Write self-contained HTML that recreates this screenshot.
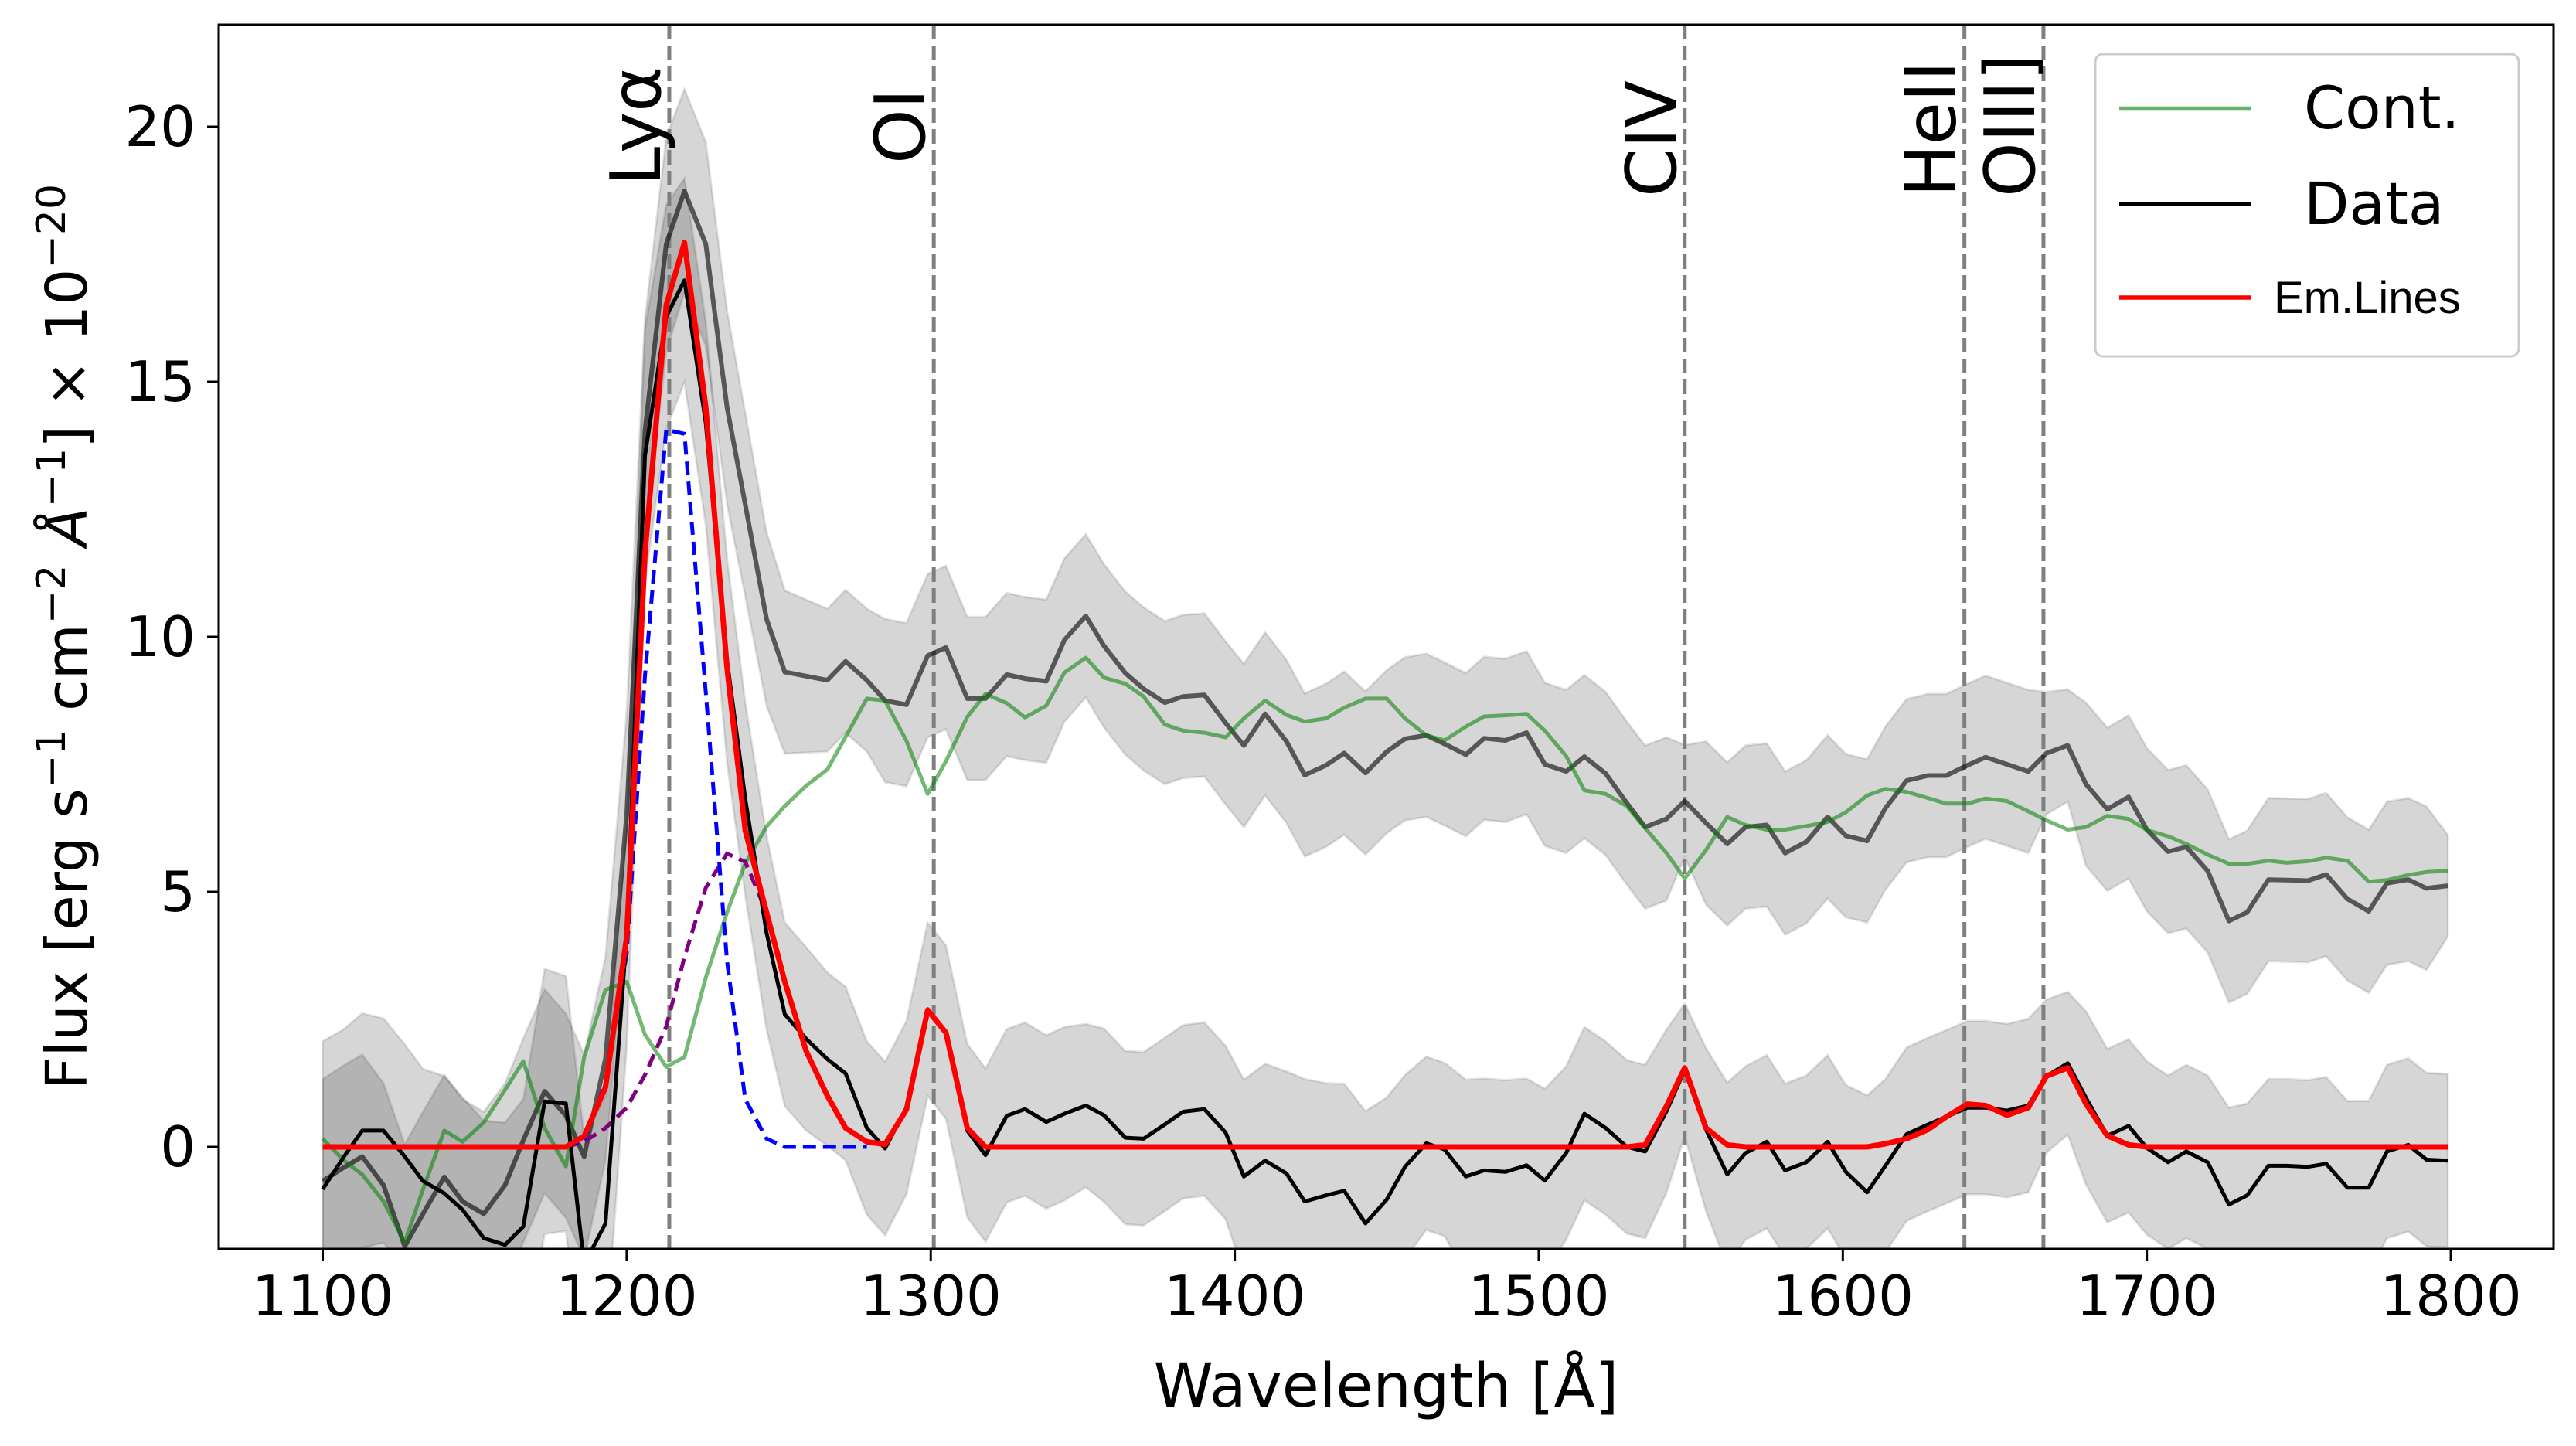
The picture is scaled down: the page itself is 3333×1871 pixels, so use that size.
<!DOCTYPE html>
<html><head><meta charset="utf-8">
<style>
html,body{margin:0;padding:0;background:#fff;}
svg{display:block;}
text{font-family:"DejaVu Sans","Liberation Sans",sans-serif;fill:#000;}
</style></head>
<body>
<svg id="chart" width="3333" height="1871" viewBox="0 0 3333 1871" xmlns="http://www.w3.org/2000/svg">
<g id="bands"></g>
<g id="vlines"></g>
<g id="series"></g>
<g id="axes"></g>
<g id="legend">
  <rect x="2711" y="70" width="548" height="391" rx="10" fill="#fff" fill-opacity="0.8" stroke="#ccc" stroke-width="3"/>
  <line x1="2742" y1="140" x2="2912" y2="140" stroke="#66b266" stroke-width="4.5"/>
  <text x="2981" y="166" font-size="76">Cont.</text>
  <line x1="2742" y1="264" x2="2912" y2="264" stroke="#000" stroke-width="4.5"/>
  <text x="2981" y="290" font-size="76">Data</text>
  <line x1="2742" y1="385" x2="2912" y2="385" stroke="#f00" stroke-width="5.5"/>
  <text x="2942" y="405" font-size="58" style="font-family:'Liberation Sans',sans-serif">Em.Lines</text>
</g>
</svg>
<script>
const wavelengths=[1100,1107,1113,1120,1127,1133,1140,1146,1153,1160,1166,1173,1180,1186,1193,1200,1206,1213,1219,1226,1233,1239,1246,1252,1259,1266,1272,1279,1285,1292,1299,1305,1312,1318,1325,1331,1338,1344,1351,1357,1364,1370,1377,1383,1390,1397,1403,1410,1417,1423,1430,1436,1443,1450,1456,1463,1469,1476,1482,1489,1496,1502,1509,1515,1522,1529,1535,1542,1548,1555,1562,1568,1575,1581,1588,1595,1601,1608,1614,1621,1628,1634,1641,1647,1654,1661,1667,1674,1680,1687,1694,1700,1707,1713,1720,1727,1733,1740,1746,1753,1759,1766,1773,1779,1786,1792,1799];
const dataFlux=[-0.83,-0.19,0.32,0.32,-0.19,-0.67,-0.91,-1.23,-1.79,-1.92,-1.56,0.89,0.85,-2.3,-1.5,4.17,13.55,16.27,16.99,14.19,9.54,6.82,4.2,2.6,2.12,1.72,1.44,0.37,-0.03,0.77,2.7,2.25,0.32,-0.16,0.61,0.74,0.49,0.65,0.81,0.62,0.18,0.16,0.44,0.69,0.74,0.28,-0.58,-0.27,-0.52,-1.07,-0.95,-0.86,-1.5,-1.03,-0.39,0.07,-0.05,-0.58,-0.46,-0.49,-0.36,-0.66,-0.12,0.65,0.37,0,-0.09,0.7,1.51,0.34,-0.54,-0.12,0.1,-0.46,-0.3,0.1,-0.49,-0.89,-0.37,0.25,0.44,0.59,0.77,0.77,0.71,0.81,1.39,1.64,0.96,0.22,0.41,-0.02,-0.3,-0.09,-0.3,-1.13,-0.95,-0.37,-0.37,-0.39,-0.33,-0.8,-0.8,-0.09,0.04,-0.25,-0.27];
const dataErr=[2.9,2.5,2.3,2.2,2.2,2.2,2.3,2.2,2.3,2.4,2.5,2.6,2.5,2.5,2.5,2.2,2.5,2.2,2.0,2.0,2.0,1.9,1.9,1.8,1.8,1.7,1.7,1.7,1.7,1.7,1.7,1.7,1.7,1.7,1.7,1.7,1.7,1.7,1.6,1.7,1.7,1.7,1.7,1.7,1.7,1.7,1.9,1.9,2.0,2.4,2.2,2.1,2.2,2.0,1.8,1.7,1.7,1.9,1.8,1.8,1.7,1.8,1.7,1.7,1.7,1.7,1.7,1.6,1.3,1.6,1.8,1.7,1.7,1.7,1.7,1.7,1.7,1.9,1.7,1.7,1.7,1.7,1.7,1.7,1.7,1.7,1.5,1.4,1.7,1.7,1.7,1.7,1.7,1.7,1.7,1.9,1.8,1.7,1.7,1.7,1.7,1.7,1.7,1.7,1.7,1.7,1.7];
const offsetFlux=[-0.67,-0.4,-0.19,-0.75,-1.95,-1.31,-0.59,-1.07,-1.31,-0.75,0.13,1.09,0.61,-0.19,1.73,6.52,14.03,17.7,18.74,17.7,14.5,12.59,10.35,9.31,9.23,9.15,9.52,9.15,8.75,8.67,9.63,9.79,8.79,8.79,9.26,9.18,9.13,9.94,10.41,9.82,9.29,8.98,8.71,8.83,8.86,8.31,7.87,8.49,7.95,7.29,7.48,7.72,7.33,7.75,8.0,8.07,7.9,7.69,8.01,7.97,8.12,7.5,7.36,7.65,7.32,6.74,6.27,6.43,6.78,6.35,5.94,6.27,6.31,5.76,5.98,6.47,6.1,6.0,6.64,7.18,7.28,7.28,7.48,7.64,7.5,7.36,7.72,7.87,7.11,6.62,6.86,6.22,5.79,5.88,5.41,4.43,4.6,5.24,5.23,5.22,5.34,4.86,4.62,5.17,5.24,5.07,5.12];
const offsetErr=[2.0,2.0,2.0,2.0,2.0,2.0,2.0,2.0,2.0,2.0,2.0,2.0,2.0,2.0,2.0,2.0,2.2,2.1,2.0,2.0,1.9,1.8,1.7,1.6,1.5,1.4,1.4,1.4,1.6,1.6,1.6,1.6,1.6,1.6,1.6,1.6,1.6,1.6,1.6,1.6,1.6,1.6,1.6,1.6,1.6,1.6,1.6,1.6,1.6,1.6,1.6,1.6,1.6,1.6,1.6,1.6,1.6,1.6,1.6,1.6,1.6,1.6,1.6,1.6,1.6,1.6,1.6,1.6,1.1,1.6,1.6,1.6,1.6,1.6,1.6,1.6,1.6,1.6,1.6,1.6,1.6,1.6,1.6,1.6,1.6,1.6,1.2,1.1,1.6,1.6,1.6,1.6,1.6,1.6,1.6,1.6,1.6,1.6,1.6,1.6,1.6,1.6,1.6,1.6,1.6,1.6,1.0];
const contFlux=[0.16,-0.27,-0.54,-1.07,-1.87,-0.83,0.32,0.1,0.48,1.12,1.68,0.37,-0.38,1.76,3.08,3.24,2.2,1.57,1.76,3.32,4.6,5.56,6.28,6.68,7.08,7.4,8.04,8.79,8.75,7.96,6.92,7.56,8.43,8.88,8.7,8.42,8.65,9.3,9.59,9.2,9.08,8.83,8.28,8.16,8.12,8.03,8.4,8.75,8.47,8.34,8.4,8.61,8.79,8.79,8.4,8.07,7.97,8.24,8.44,8.46,8.49,8.16,7.66,6.99,6.92,6.68,6.25,5.76,5.26,5.82,6.47,6.31,6.22,6.22,6.29,6.37,6.56,6.89,7.02,6.96,6.84,6.73,6.73,6.83,6.78,6.58,6.4,6.22,6.27,6.49,6.43,6.21,6.09,5.94,5.73,5.55,5.55,5.61,5.57,5.6,5.67,5.61,5.2,5.23,5.33,5.39,5.41];
const emFlux=[0,0,0,0,0,0,0,0,0,0,0,0,0,0.21,1.17,4.12,11.63,16.5,17.73,14.5,9.39,6.2,4.6,3.24,1.88,1.0,0.37,0.1,0.05,0.73,2.68,2.24,0.37,0,0,0,0,0,0,0,0,0,0,0,0,0,0,0,0,0,0,0,0,0,0,0,0,0,0,0,0,0,0,0,0,0,0.04,0.8,1.55,0.37,0.04,0,0,0,0,0,0,0,0.06,0.16,0.34,0.59,0.84,0.81,0.62,0.77,1.39,1.55,0.84,0.22,0.04,0,0,0,0,0,0,0,0,0,0,0,0,0,0,0,0];
const lyaNarrowW=[1180,1186,1193,1200,1206,1213,1219,1226,1233,1239,1246,1252,1259,1266,1272,1279];
const lyaNarrowF=[0,0.13,1.25,3.8,9.23,14.06,13.98,8.91,3.64,0.93,0.16,0,0,0,0,0];
const lyaBroadW=[1180,1186,1193,1200,1206,1213,1219,1226,1233,1239,1246];
const lyaBroadF=[0,0.1,0.37,0.77,1.41,2.36,3.72,5.08,5.75,5.59,4.6];
const lineNames=["Ly\u03b1","OI","CIV","HeII","OIII]"];
const lineWaves=[1214,1301,1548,1640,1666];
const lineLabelBottom=[240,212,255,255,255];
const xTicks=[1100,1200,1300,1400,1500,1600,1700,1800];
const yTicks=[0,5,10,15,20];

const PL=283,PR=3304,PT=32,PB=1616,XMIN=1065.8,XMAX=1833.8,YMIN=-2,YMAX=22;
const NS="http://www.w3.org/2000/svg";
function xs(v){return PL+(v-XMIN)/(XMAX-XMIN)*(PR-PL);}
function ys(v){return PB-(v-YMIN)/(YMAX-YMIN)*(PB-PT);}
function mk(tag,attrs,parent){const e=document.createElementNS(NS,tag);for(const k in attrs)e.setAttribute(k,attrs[k]);parent.appendChild(e);return e;}
const svg=document.getElementById('chart');
const defs=mk('defs',{},svg);
const cp=mk('clipPath',{id:'clip'},defs);
mk('rect',{x:PL,y:PT,width:PR-PL,height:PB-PT},cp);
const bands=document.getElementById('bands');bands.setAttribute('clip-path','url(#clip)');
const series=document.getElementById('series');series.setAttribute('clip-path','url(#clip)');
const vl=document.getElementById('vlines');

function bandPath(w,f,e){let up=w.map((x,i)=>xs(x).toFixed(1)+','+ys(f[i]+e[i]).toFixed(1));let lo=w.map((x,i)=>xs(x).toFixed(1)+','+ys(f[i]-e[i]).toFixed(1)).reverse();return 'M'+up.join('L')+'L'+lo.join('L')+'Z';}
function linePath(w,f){return 'M'+w.map((x,i)=>xs(x).toFixed(1)+','+ys(f[i]).toFixed(1)).join('L');}

const b1=mk('path',{d:bandPath(wavelengths,offsetFlux,offsetErr),fill:'#000','fill-opacity':0.16,stroke:'#000','stroke-opacity':0.1,'stroke-width':3},bands);


const b2=mk('path',{d:bandPath(wavelengths,dataFlux,dataErr),fill:'#000','fill-opacity':0.16,stroke:'#000','stroke-opacity':0.1,'stroke-width':3},bands);



lineWaves.forEach((w,i)=>{
  const l=mk('line',{x1:xs(w),x2:xs(w),y1:PT,y2:PB,stroke:'#7f7f7f','stroke-width':5,'stroke-dasharray':'19,8'},vl);
  
  
  const t=mk('text',{x:0,y:0,'font-size':90,transform:'translate('+(xs(w)-12)+','+lineLabelBottom[i]+') rotate(-90)'},vl);
  t.textContent=lineNames[i];
  
  
});

const s1=mk('path',{d:linePath(wavelengths,offsetFlux),fill:'none',stroke:'#000','stroke-opacity':0.6,'stroke-width':6,'stroke-linejoin':'round'},series);


const s2=mk('path',{d:linePath(wavelengths,contFlux),fill:'none',stroke:'#008000','stroke-opacity':0.55,'stroke-width':5,'stroke-linejoin':'round'},series);


const s3=mk('path',{d:linePath(lyaBroadW,lyaBroadF),fill:'none',stroke:'#800080','stroke-width':5,'stroke-dasharray':'17,9'},series);


const s4=mk('path',{d:linePath(lyaNarrowW,lyaNarrowF),fill:'none',stroke:'#0000ff','stroke-width':5,'stroke-dasharray':'17,9'},series);


const s5=mk('path',{d:linePath(wavelengths,dataFlux),fill:'none',stroke:'#000','stroke-width':5,'stroke-linejoin':'round'},series);


const s6=mk('path',{d:linePath(wavelengths,emFlux),fill:'none',stroke:'#ff0000','stroke-width':7,'stroke-linejoin':'round'},series);



const ax=document.getElementById('axes');
const fr=mk('rect',{x:PL,y:PT,width:PR-PL,height:PB-PT,fill:'none',stroke:'#000','stroke-width':3},ax);


xTicks.forEach(v=>{
  const tk=mk('line',{x1:xs(v),x2:xs(v),y1:PB,y2:PB+15,stroke:'#000','stroke-width':3},ax);
  
  
  const t=mk('text',{x:xs(v),y:PB+86,'font-size':72,'text-anchor':'middle'},ax);
  t.textContent=v;
  
  
});
yTicks.forEach(v=>{
  const tk=mk('line',{x1:PL-15,x2:PL,y1:ys(v),y2:ys(v),stroke:'#000','stroke-width':3},ax);
  
  
  const t=mk('text',{x:PL-30,y:ys(v)+25,'font-size':72,'text-anchor':'end'},ax);
  t.textContent=v;
  
  
});
const xl=mk('text',{x:(PL+PR)/2,y:1820,'font-size':78,'text-anchor':'middle'},ax);
xl.textContent='Wavelength [\u00c5]';


const yl=mk('text',{x:0,y:0,'font-size':74,'text-anchor':'middle',transform:'translate(112,'+((PT+PB)/2)+') rotate(-90)'},ax);
yl.innerHTML='Flux [erg s<tspan dy="-28" font-size="52">\u22121</tspan><tspan dy="28"> cm</tspan><tspan dy="-28" font-size="52">\u22122</tspan><tspan dy="28" font-style="italic"> \u00c5</tspan><tspan dy="-28" font-size="52">\u22121</tspan><tspan dy="28">] \u00d7 10</tspan><tspan dy="-28" font-size="52">\u221220</tspan>';


</script>
</body></html>
